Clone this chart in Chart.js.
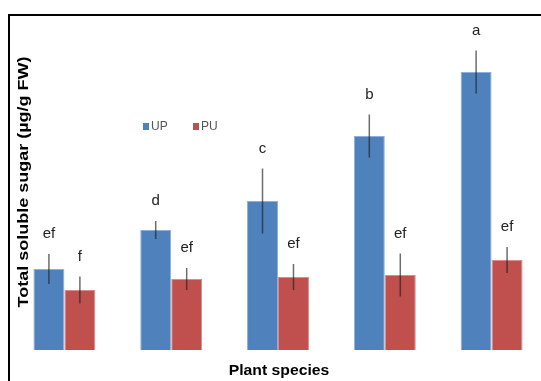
<!DOCTYPE html>
<html>
<head>
<meta charset="utf-8">
<script src="https://cdn.jsdelivr.net/npm/chart.js@4"></script>
<style>
  html, body { margin: 0; padding: 0; background: #fff; overflow: hidden; }
  #wrap { width: 560px; height: 381px; }
</style>
</head>
<body>
<div id="wrap"><canvas id="myChart" width="560" height="381"></canvas></div>
<script>
// values (arbitrary units, axis has no ticks)
const species = ["S1", "S2", "S3", "S4", "S5"];
const upValues = [8.1, 12.0, 14.9, 21.4, 27.8];
const puValues = [6.0, 7.1, 7.3, 7.5, 9.0];
const upErr = [1.5, 0.9, 3.25, 2.15, 2.15];
const puErr = [1.35, 1.1, 1.3, 2.15, 1.3];
const upLetters = ["ef", "d", "c", "b", "a"];
const puLetters = ["f", "ef", "ef", "ef", "ef"];

const errs = [upErr, puErr];
const letters = [upLetters, puLetters];

const extras = {
  id: "extras",
  afterDatasetsDraw(chart) {
    const ctx = chart.ctx;
    const y = chart.scales.y;
    ctx.save();
    chart.data.datasets.forEach((ds, i) => {
      const meta = chart.getDatasetMeta(i);
      meta.data.forEach((bar, j) => {
        const v = ds.data[j];
        const e = errs[i][j];
        const top = y.getPixelForValue(v + e);
        const bot = y.getPixelForValue(v - e);
        ctx.strokeStyle = "rgba(30,30,30,0.65)";
        ctx.lineWidth = 1.5;
        ctx.beginPath();
        ctx.moveTo(bar.x, top);
        ctx.lineTo(bar.x, bot);
        ctx.stroke();
        ctx.fillStyle = "#222";
        ctx.font = "15px 'Liberation Sans', Arial, sans-serif";
        ctx.textAlign = "center";
        ctx.textBaseline = "middle";
        ctx.fillText(letters[i][j], bar.x, top - 20);
      });
    });
    ctx.restore();
  },
  afterDraw(chart) {
    const ctx = chart.ctx;
    ctx.save();
    // outer frame
    ctx.strokeStyle = "#000";
    ctx.lineWidth = 2;
    ctx.strokeRect(9, 15, 600, 400);
    // y title
    ctx.fillStyle = "#000";
    ctx.font = "bold 15px 'Liberation Sans', Arial, sans-serif";
    ctx.textAlign = "center";
    ctx.textBaseline = "middle";
    ctx.translate(24, 182);
    ctx.rotate(-Math.PI / 2);
    ctx.scale(1.2, 1);
    ctx.fillText("Total soluble sugar (\u00b5g/g FW)", 0, 0);
    ctx.restore();
    ctx.save();
    // x title
    ctx.fillStyle = "#000";
    ctx.font = "bold 15px 'Liberation Sans', Arial, sans-serif";
    ctx.textAlign = "center";
    ctx.textBaseline = "middle";
    ctx.translate(279, 371);
    ctx.scale(1.05, 1);
    ctx.fillText("Plant species", 0, 0);
    ctx.restore();
    ctx.save();
    // legend
    ctx.font = "12px 'Liberation Sans', Arial, sans-serif";
    ctx.textAlign = "left";
    ctx.textBaseline = "middle";
    const items = [[143, "#4F81BD", "UP"], [193, "#C0504D", "PU"]];
    items.forEach(([x, c, t]) => {
      ctx.fillStyle = c;
      ctx.fillRect(x, 123, 6, 7);
      ctx.fillStyle = "#555";
      ctx.fillText(t, x + 8, 127);
    });
    ctx.restore();
  }
};

new Chart(document.getElementById("myChart").getContext("2d"), {
  type: "bar",
  data: {
    labels: species,
    datasets: [
      { label: "UP", data: upValues, backgroundColor: "#4F81BD", borderColor: "#8DB0DD", borderWidth: 1 },
      { label: "PU", data: puValues, backgroundColor: "#C0504D", borderColor: "#D98C8A", borderWidth: 1 }
    ]
  },
  options: {
    responsive: false,
    animation: false,
    devicePixelRatio: 1,
    layout: { padding: { left: 11, right: 15, top: 22, bottom: 31 } },
    plugins: { legend: { display: false }, tooltip: { enabled: false } },
    datasets: { bar: { categoryPercentage: 0.58, barPercentage: 1.0 } },
    scales: {
      x: { display: false },
      y: { display: false, min: 0, max: 32.8 }
    }
  },
  plugins: [extras]
});
</script>
</body>
</html>
